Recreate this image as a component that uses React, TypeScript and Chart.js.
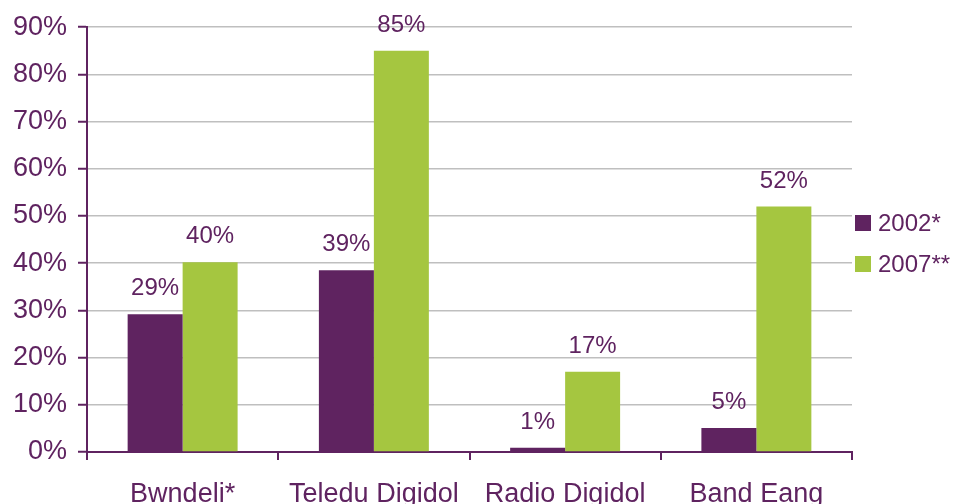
import React, { useEffect, useRef } from "react";
import { Chart, registerables } from "chart.js";

Chart.register(...registerables);

const categories = ["Bwndeli*", "Teledu Digidol", "Radio Digidol", "Band Eang"];
const seriesNames = ["2002*", "2007**"];
const values2002 = [29.2, 38.5, 0.9, 5.1];
const values2007 = [40.2, 85, 17, 52];
const labels2002 = ["29%", "39%", "1%", "5%"];
const labels2007 = ["40%", "85%", "17%", "52%"];
const colors = ["#5F2360", "#A5C640"];

const PURPLE = "#5F2360";
const FONT = "'Liberation Sans', Arial, sans-serif";

export default function App() {
  const ref = useRef<HTMLCanvasElement | null>(null);

  useEffect(() => {
    if (!ref.current) return;
    const labelSets = [labels2002, labels2007];

    const dataLabels = {
      id: "dataLabels",
      afterDatasetsDraw(chart: any) {
        const ctx = chart.ctx;
        ctx.save();
        ctx.font = `24px ${FONT}`;
        ctx.fillStyle = PURPLE;
        ctx.textAlign = "center";
        ctx.textBaseline = "alphabetic";
        chart.data.datasets.forEach((ds: any, i: number) => {
          const meta = chart.getDatasetMeta(i);
          meta.data.forEach((el: any, j: number) => {
            ctx.fillText(labelSets[i][j], el.x, el.y - 19);
          });
        });
        ctx.restore();
      },
    };

    const legendPlugin = {
      id: "customLegend",
      afterDraw(chart: any) {
        const ctx = chart.ctx;
        ctx.save();
        ctx.font = `24px ${FONT}`;
        ctx.textAlign = "left";
        ctx.textBaseline = "middle";
        const x0 = chart.chartArea.right + 3;
        const ys = [223, 264];
        seriesNames.forEach((name, i) => {
          ctx.fillStyle = colors[i];
          ctx.fillRect(x0, ys[i] - 8, 16, 16);
          ctx.fillStyle = PURPLE;
          ctx.fillText(name, x0 + 23, ys[i] + 1);
        });
        ctx.restore();
      },
    };

    const chart = new Chart(ref.current, {
      type: "bar",
      data: {
        labels: categories,
        datasets: [
          {
            label: seriesNames[0],
            data: values2002,
            backgroundColor: colors[0],
            categoryPercentage: 0.575,
            barPercentage: 1,
          },
          {
            label: seriesNames[1],
            data: values2007,
            backgroundColor: colors[1],
            categoryPercentage: 0.575,
            barPercentage: 1,
          },
        ],
      },
      options: {
        responsive: false,
        animation: false,
        layout: { padding: { top: 26, right: 101, left: 0, bottom: 0 } },
        plugins: {
          legend: { display: false },
          tooltip: { enabled: false },
        },
        scales: {
          x: {
            afterFit: (s: any) => {
              s.height = 52;
            },
            grid: {
              display: true,
              offset: true,
              drawOnChartArea: false,
              drawTicks: true,
              tickLength: 8,
              tickColor: PURPLE,
              color: PURPLE,
              lineWidth: 2,
            },
            border: { display: true, color: PURPLE, width: 2 },
            ticks: {
              color: PURPLE,
              font: { family: FONT, size: 27 },
              padding: 18,
              maxRotation: 0,
              autoSkip: false,
            },
          },
          y: {
            min: 0,
            max: 90,
            afterFit: (s: any) => {
              s.width = 87;
            },
            grid: {
              color: "#BFBFBF",
              lineWidth: 1.5,
              drawTicks: true,
              tickLength: 9,
              tickColor: PURPLE,
              tickWidth: 2,
            },
            border: { display: true, color: PURPLE, width: 2 },
            ticks: {
              stepSize: 10,
              color: PURPLE,
              font: { family: FONT, size: 27 },
              padding: 11,
              callback: (v: any) => `${v}%`,
            },
          },
        },
      },
      plugins: [dataLabels, legendPlugin],
    });

    return () => chart.destroy();
  }, []);

  return (
    <div style={{ position: "fixed", left: 0, top: 0, width: 953, height: 504, background: "#fff" }}>
      <canvas ref={ref} width={953} height={504} style={{ display: "block" }} />
    </div>
  );
}
